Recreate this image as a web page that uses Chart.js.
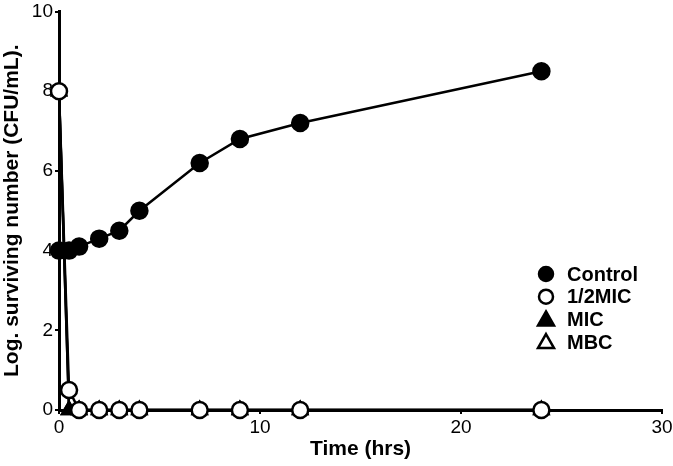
<!DOCTYPE html>
<html>
<head>
<meta charset="utf-8">
<script src="https://cdn.jsdelivr.net/npm/chart.js@4"></script>
<style>
  html, body { margin: 0; padding: 0; background: #fff; }
  #wrap { width: 673px; height: 466px; position: relative; }
</style>
</head>
<body>
<div id="wrap"><canvas id="c"></canvas></div>
<script>
// ─── data ────────────────────────────────────────────────────────────────
const TIMES      = [0, 0.5, 1, 2, 3, 4, 7, 9, 12, 24];
const CONTROL    = [4, 4, 4.1, 4.3, 4.5, 5.0, 6.2, 6.8, 7.2, 8.5];
const HALF_MIC   = [8, 0.5, 0, 0, 0, 0, 0, 0, 0, 0];
const MIC        = [8, 0, 0, 0, 0, 0, 0, 0, 0, 0];
const MBC        = [8, 0, 0, 0, 0, 0, 0, 0, 0, 0];
const X_TICKS    = [0, 10, 20, 30];
const Y_TICKS    = [0, 2, 4, 6, 8, 10];

const FONT = "'Liberation Sans', Arial, sans-serif";
const INK  = '#000';

Chart.defaults.font.family = FONT;
Chart.defaults.color = INK;

const pts = ys => TIMES.map((t, i) => ({ x: t, y: ys[i] }));

function ds(label, data, style, fill) {
  return {
    label, data: pts(data),
    borderColor: INK, borderWidth: 2.5,
    pointStyle: style, pointRadius: 8, pointHoverRadius: 8,
    pointBackgroundColor: fill, pointBorderColor: INK, pointBorderWidth: 2.5,
    tension: 0, fill: false, clip: false,
  };
}

// legend drawn inside the plot area
const insideLegend = {
  id: 'insideLegend',
  afterDraw(chart) {
    const ctx = chart.ctx;
    const x0 = 546, y0 = 274, step = 22.7;
    ctx.save();
    ctx.font = 'bold 20px ' + FONT;
    ctx.textBaseline = 'middle';
    chart.data.datasets.forEach((d, i) => {
      const y = y0 + i * step;
      ctx.fillStyle = d.pointBackgroundColor;
      ctx.strokeStyle = INK;
      ctx.lineWidth = 2.5;
      ctx.beginPath();
      if (d.pointStyle === 'circle') {
        ctx.arc(x0, y, 7, 0, Math.PI * 2);
      } else {
        ctx.moveTo(x0, y - 8);
        ctx.lineTo(x0 + 8, y + 6);
        ctx.lineTo(x0 - 8, y + 6);
        ctx.closePath();
      }
      ctx.fill();
      ctx.stroke();
      ctx.fillStyle = INK;
      ctx.fillText(d.label, x0 + 21, y + 1);
    });
    ctx.restore();
  },
};

const tickGrid = { display: true, drawOnChartArea: false, drawTicks: true,
                   tickLength: 4, color: INK, lineWidth: 2 };

new Chart(document.getElementById('c'), {
  type: 'line',
  data: {
    datasets: [
      ds('Control', CONTROL, 'circle', INK),
      ds('1/2MIC', HALF_MIC, 'circle', '#fff'),
      ds('MIC', MIC, 'triangle', INK),
      ds('MBC', MBC, 'triangle', '#fff'),
    ],
  },
  options: {
    responsive: true,
    maintainAspectRatio: false,
    animation: false,
    layout: { padding: { top: 6, right: 11, left: 0, bottom: 0 } },
    plugins: { legend: { display: false }, tooltip: { enabled: false } },
    scales: {
      x: {
        type: 'linear', min: 0, max: 30,
        afterBuildTicks: s => { s.ticks = X_TICKS.map(v => ({ value: v })); },
        afterFit: s => { s.height = 56; s.paddingLeft = 0; s.paddingRight = 0; },
        grid: tickGrid,
        border: { color: INK, width: 3 },
        ticks: { color: INK, font: { size: 19, lineHeight: 1 }, padding: 4, maxRotation: 0 },
        title: { display: true, text: 'Time (hrs)', color: INK,
                 font: { size: 21, weight: 'bold' }, padding: { top: 5 } },
      },
      y: {
        type: 'linear', min: 0, max: 10,
        afterBuildTicks: s => { s.ticks = Y_TICKS.map(v => ({ value: v })); },
        afterFit: s => { s.width = 59; },
        grid: tickGrid,
        border: { color: INK, width: 3 },
        ticks: { color: INK, font: { size: 19, lineHeight: 1 }, padding: 2 },
        title: { display: true, text: 'Log. surviving number (CFU/mL).', color: INK,
                 font: { size: 21, weight: 'bold' }, padding: { top: 0, bottom: 0 } },
      },
    },
  },
  plugins: [insideLegend],
});
</script>
</body>
</html>
